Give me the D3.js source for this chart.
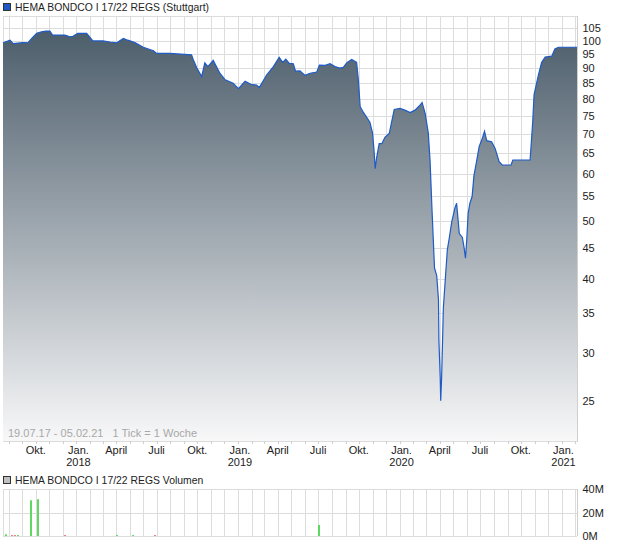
<!DOCTYPE html>
<html><head><meta charset="utf-8">
<script src="https://cdn.jsdelivr.net/npm/d3@7"></script>
<style>body{margin:0;background:#fff;} svg{display:block;font-family:"Liberation Sans",Arial,sans-serif;}</style>
</head><body><svg id="c" width="620" height="546"></svg>
<script>
const title = "HEMA BONDCO I 17/22 REGS (Stuttgart)";
const volTitle = "HEMA BONDCO I 17/22 REGS Volumen";
const rangeText = "19.07.17 - 05.02.21   1 Tick = 1 Woche";
const domainDates = ["2017-07-19", "2021-02-05"];
const priceDates = ["2017-07-19","2017-08-04","2017-08-11","2017-08-22","2017-09-02","2017-09-13","2017-09-22","2017-10-03","2017-10-14","2017-10-24","2017-11-02","2017-11-08","2017-12-06","2017-12-17","2017-12-24","2018-01-04","2018-01-24","2018-02-07","2018-03-02","2018-03-18","2018-04-02","2018-04-17","2018-04-27","2018-05-13","2018-06-01","2018-06-24","2018-07-01","2018-07-31","2018-09-18","2018-09-22","2018-09-30","2018-10-11","2018-10-18","2018-10-25","2018-11-06","2018-11-21","2018-12-03","2018-12-21","2019-01-02","2019-01-17","2019-02-01","2019-02-12","2019-02-18","2019-03-07","2019-03-22","2019-04-04","2019-04-12","2019-04-19","2019-04-27","2019-05-06","2019-05-11","2019-05-21","2019-06-01","2019-06-13","2019-06-28","2019-07-04","2019-07-17","2019-07-28","2019-08-08","2019-08-19","2019-08-27","2019-09-04","2019-09-15","2019-09-26","2019-09-30","2019-10-04","2019-10-11","2019-10-26","2019-11-01","2019-11-04","2019-11-07","2019-11-10","2019-11-16","2019-11-22","2019-11-29","2019-12-09","2019-12-14","2019-12-20","2020-01-02","2020-01-13","2020-01-25","2020-02-05","2020-02-15","2020-02-21","2020-02-28","2020-03-06","2020-03-10","2020-03-14","2020-03-20","2020-03-25","2020-03-29","2020-03-30","2020-04-02","2020-04-03","2020-04-05","2020-04-07","2020-04-09","2020-04-13","2020-04-18","2020-04-22","2020-04-28","2020-05-05","2020-05-09","2020-05-15","2020-05-22","2020-05-26","2020-05-29","2020-06-01","2020-06-04","2020-06-08","2020-06-13","2020-06-17","2020-06-23","2020-06-29","2020-07-06","2020-07-11","2020-07-16","2020-07-27","2020-08-04","2020-08-13","2020-08-20","2020-09-09","2020-09-13","2020-10-22","2020-10-25","2020-10-28","2020-10-31","2020-11-10","2020-11-17","2020-11-25","2020-12-10","2020-12-17","2020-12-25","2021-02-05"];
const priceValues = [99.3,100.3,99.0,99.2,99.4,99.3,101,103,103.6,103.9,103.9,102.3,102.3,101.6,101.8,103,103,100,100,99.6,99.3,101,100.3,99.4,97.6,96.3,95.3,95.3,94.8,93,90.1,87.2,91.9,90.6,92.8,88.3,86.1,85.0,83.2,85.6,84.5,84.4,83.6,87.8,90.6,93.9,92.1,93.2,91.7,91.6,89,89.1,87.6,88.3,88.7,91.1,91.0,91.6,90.6,90.1,90.3,92.0,93.1,92.1,86,77.7,76.0,73.1,70.1,66.1,61.1,63.6,67.3,67.3,69.0,70.1,73.1,76.8,77.1,76.6,75.9,76.6,77.9,78.9,75.6,70.1,63.0,53.0,41.7,40.5,36.9,31.5,27.2,25.0,27.2,31.0,35.7,39.5,44.7,46.6,49.8,52.5,53.5,47.6,46.9,45.0,43.3,46.6,51.4,53.5,54.9,59.4,62.8,66.6,68.7,70.6,68.1,67.8,66.1,62.8,62,62,63.2,63.2,68,73.4,81.3,87.8,92,94,94.3,97,97.6,97.6];
const yTicks = [25,30,35,40,45,50,55,60,65,70,75,80,85,90,95,100,105];
const yDomain = [21.4, 110.1];
const quarterLabels = ["Jan.","April","Juli","Okt."];
const volDates = ["2017-07-26","2017-08-08","2017-08-15","2017-08-22","2017-09-20","2017-10-05","2017-12-06","2018-04-03","2018-05-09","2018-06-27","2019-07-02"];
const volValues = [1.4,0.6,0.6,0.8,30.4,31.3,0.6,0.8,0.8,0.6,9.4];
const volUp = [true,false,false,true,true,true,false,true,true,false,true];
const volTicks = [0,20,40];
const volDomain = [0, 40];

const P = d3.timeParse("%Y-%m-%d");
const svg = d3.select("#c");
const L = 3, R = 577, T = 16, B = 441;
const VT = 489, VB = 536;
const gridC = "#dcdcdc";

const x = d3.scaleTime().domain(domainDates.map(P)).range([L, R]);
const y = d3.scaleLog().domain(yDomain).range([B, T]);
const yv = d3.scaleLinear().domain(volDomain).range([VB, VT]);

const months = d3.timeMonth.range(x.domain()[0], x.domain()[1]).filter(d => d > x.domain()[0]);
const px = v => Math.round(v) + 0.5;

// gradient
const defs = svg.append("defs");
const gr = defs.append("linearGradient").attr("id","g").attr("gradientUnits","userSpaceOnUse")
  .attr("x1",0).attr("y1",T).attr("x2",0).attr("y2",B);
gr.append("stop").attr("offset","0").attr("stop-color","#465866");
gr.append("stop").attr("offset","1").attr("stop-color","#f8f8f9");

// title
svg.append("rect").attr("x",3.5).attr("y",3.5).attr("width",7).attr("height",7).attr("fill","#1f57c3").attr("stroke","#333");
svg.append("text").attr("x",15).attr("y",10.5).attr("font-size",10.4).attr("fill","#222").text(title);

// price grid
const gp = svg.append("g");
gp.selectAll("line.v").data(months).join("line")
  .attr("x1",d=>px(x(d))).attr("x2",d=>px(x(d))).attr("y1",T).attr("y2",B).attr("stroke",gridC);
gp.selectAll("line.h").data(yTicks).join("line").attr("class","h")
  .attr("x1",L).attr("x2",R).attr("y1",d=>px(y(d))).attr("y2",d=>px(y(d))).attr("stroke",gridC);
gp.append("rect").attr("x",L+0.5).attr("y",T+0.5).attr("width",R-L).attr("height",B-T).attr("fill","none").attr("stroke",gridC);

// area + line
const data = priceDates.map((d,i)=>({d:P(d), v:priceValues[i]}));
svg.append("path").datum(data)
  .attr("d", d3.area().x(d=>x(d.d)).y0(B).y1(d=>y(d.v)))
  .attr("fill","url(#g)");
svg.append("path").datum(data)
  .attr("d", d3.line().x(d=>x(d.d)).y(d=>y(d.v)))
  .attr("fill","none").attr("stroke","#1f5bc6").attr("stroke-width",1.2);

// range text
svg.append("text").attr("x",8).attr("y",437).attr("font-size",11).attr("fill","#a8a8a8").style("white-space","pre").text(rangeText);

// right axis
const ya = svg.append("g").attr("transform",`translate(${R+0.5},0)`)
  .call(d3.axisRight(y).tickValues(yTicks).tickFormat(d3.format("d")).tickSize(0).tickPadding(5));
ya.select(".domain").attr("stroke","#cfcfcf").attr("d",`M0,${T}V${B}`);
ya.selectAll("text").attr("font-size",11).attr("fill","#222").attr("font-family","Liberation Sans, Arial, sans-serif");

// x ticks
svg.append("g").selectAll("line").data(months).join("line")
  .attr("x1",d=>px(x(d))).attr("x2",d=>px(x(d))).attr("y1",B).attr("y2",B+3).attr("stroke","#d0d0d0");
const qs = months.filter(d => d.getMonth() % 3 === 0);
const xl = svg.append("g").attr("font-size",11).attr("fill","#222").attr("text-anchor","middle");
xl.selectAll("text.m").data(qs).join("text").attr("class","m")
  .attr("x",d=>x(d)+ (d.getMonth()===0?2:0)).attr("y",454).text(d=>quarterLabels[d.getMonth()/3]);
xl.selectAll("text.yr").data(qs.filter(d=>d.getMonth()===0)).join("text").attr("class","yr")
  .attr("x",d=>x(d)+2).attr("y",466).text(d=>d.getFullYear());

// volume panel
svg.append("rect").attr("x",3.5).attr("y",476.5).attr("width",7).attr("height",7).attr("fill","#c0c0c0").attr("stroke","#333");
svg.append("text").attr("x",15).attr("y",484).attr("font-size",10.4).attr("fill","#222").text(volTitle);
const gv = svg.append("g");
gv.selectAll("line.v").data(months).join("line")
  .attr("x1",d=>px(x(d))).attr("x2",d=>px(x(d))).attr("y1",VT).attr("y2",VB).attr("stroke",gridC);
gv.selectAll("line.h").data(volTicks).join("line").attr("class","h")
  .attr("x1",L).attr("x2",R).attr("y1",d=>px(yv(d))).attr("y2",d=>px(yv(d))).attr("stroke",gridC);
gv.append("line").attr("x1",L+0.5).attr("x2",L+0.5).attr("y1",VT).attr("y2",VB).attr("stroke",gridC);
svg.append("g").selectAll("rect").data(volDates.map((d,i)=>({d:P(d),v:volValues[i],up:volUp[i]}))).join("rect")
  .attr("x",d=>Math.round(x(d.d))-1).attr("width",2)
  .attr("y",d=>yv(d.v)).attr("height",d=>VB-yv(d.v))
  .attr("fill",d=>d.up?"#5fd85f":"#e05050");
const va = svg.append("g").attr("transform",`translate(${R+0.5},0)`)
  .call(d3.axisRight(yv).tickValues(volTicks).tickFormat(d=>d+"M").tickSize(0).tickPadding(5));
va.select(".domain").attr("stroke","#cfcfcf").attr("d",`M0,${VT}V${VB}`);
va.selectAll("text").attr("font-size",11).attr("fill","#222").attr("font-family","Liberation Sans, Arial, sans-serif");
</script></body></html>
